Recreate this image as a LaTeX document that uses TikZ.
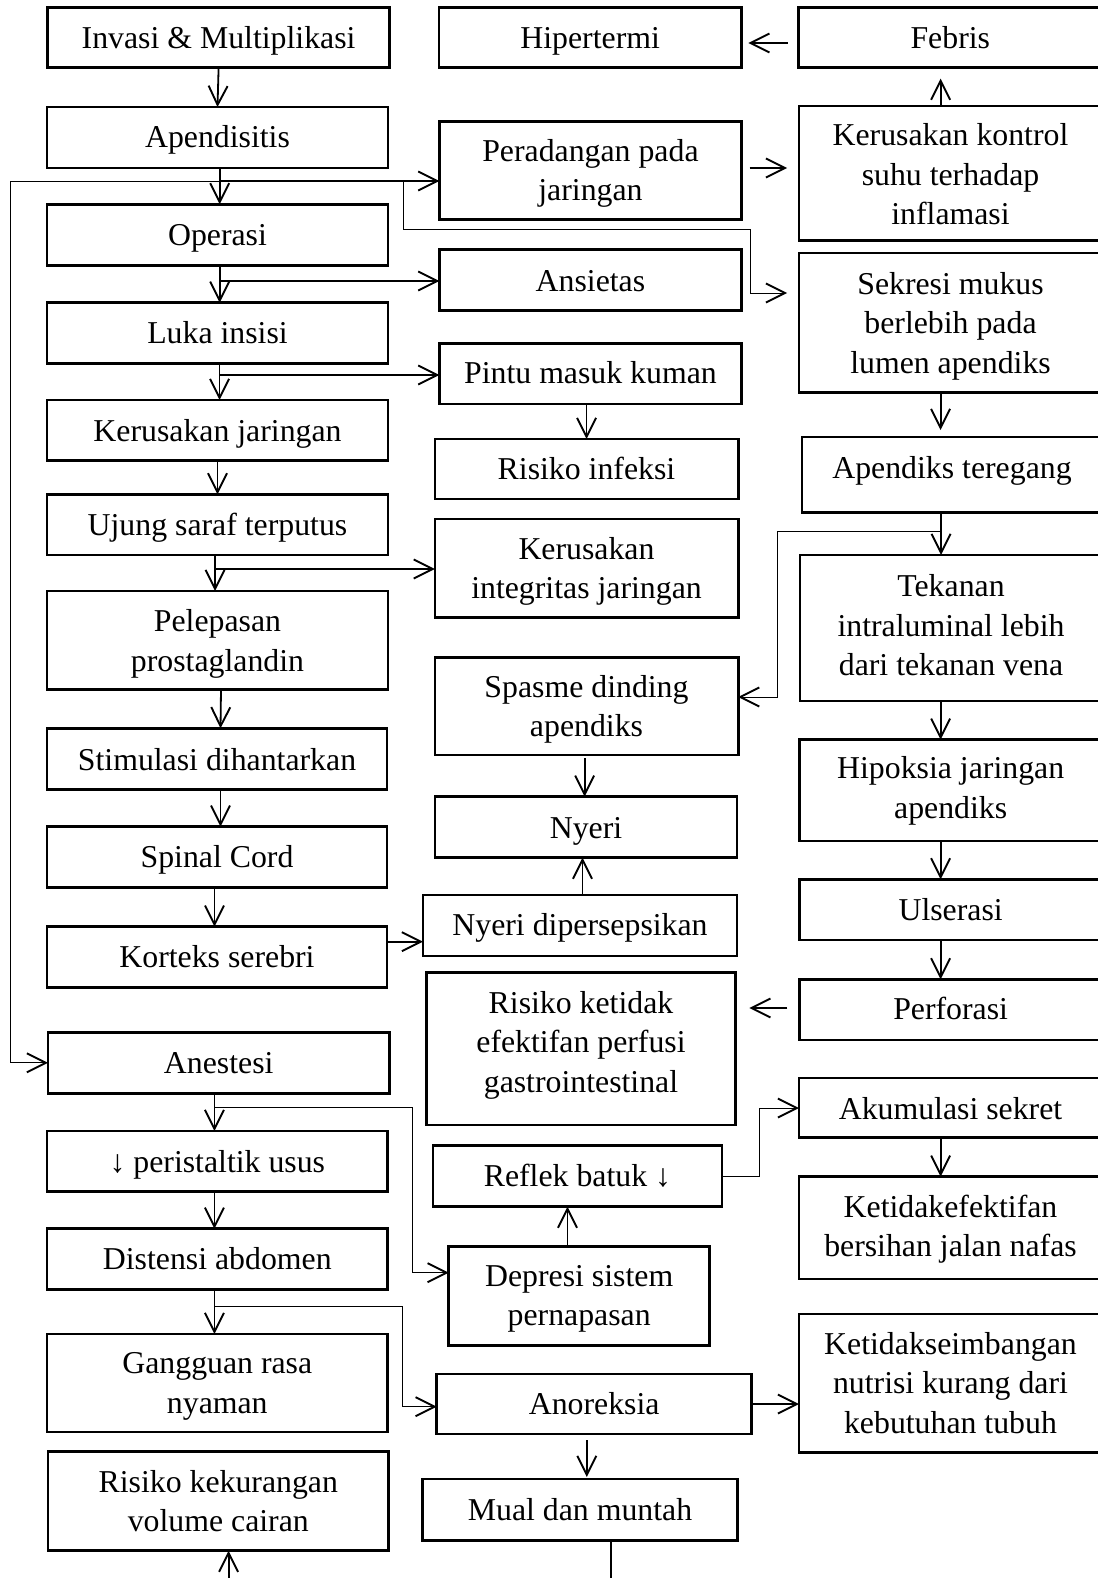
\documentclass[tikz,border=0pt]{standalone}
\usepackage{fontspec}
\setmainfont{Liberation Serif}
\usetikzlibrary{arrows.meta,calc}
\tikzset{
  bx/.style={draw, line width=2.6pt, inner sep=0pt, outer sep=0pt},
  tx/.style={align=center, inner sep=0pt, font=\fontsize{31.8pt}{39.5pt}\selectfont,
    execute at begin node=\strut, execute at end node=\strut},
  arr/.style={line width=1.8pt, -{Straight Barb[length=19pt,width=19pt,line width=1.9pt]}},
  ln/.style={line width=1.8pt},
  thinarr/.style={line width=0.9pt, -{Straight Barb[length=19pt,width=19pt,line width=1.9pt]}},
}
\newcommand{\bxn}[7]{%
  \pgfmathsetmacro{\bw}{#4-#2}%
  \pgfmathsetmacro{\bh}{#5-#3}%
  \pgfmathsetmacro{\bcx}{(#2+#4)/2}%
  \pgfmathsetmacro{\bcy}{(#3+#5)/2}%
  \node[bx, minimum width=\bw pt, minimum height=\bh pt] (#1) at (\bcx,\bcy) {};
  \node[tx] (t#1) at (\bcx,#6) {#7};
}
\begin{document}
\begin{tikzpicture}[x=1pt,y=-1pt]
\fill[white] (0,0) rectangle (1097,1578);
\useasboundingbox (0,0) rectangle (1097,1578);
% left column
\bxn{inv}{47.6}{7.3}{389.6}{67.7}{40.7}{Invasi \& Multiplikasi}
\bxn{apd}{47}{107}{388}{168}{139.4}{Apendisitis}
\bxn{ops}{47}{204.3}{388}{265.7}{238}{Operasi}
\bxn{luk}{47}{302.7}{388}{363.3}{335.6}{Luka insisi}
\bxn{kj}{47}{400}{388}{460.7}{433.2}{Kerusakan jaringan}
\bxn{ujs}{47}{494.3}{388}{555}{527.8}{Ujung saraf terputus}
\bxn{pel}{47}{591}{388}{689.3}{646.6}{Pelepasan\\prostaglandin}
\bxn{stm}{47}{728.3}{387}{789.3}{762.3}{Stimulasi dihantarkan}
\bxn{spc}{47}{826.7}{387}{887.3}{859.9}{Spinal Cord}
\bxn{kor}{47}{926.7}{387}{987.3}{959.6}{Korteks serebri}
\bxn{ane}{48}{1032.3}{389.5}{1093.3}{1065.3}{Anestesi}
\bxn{pst}{47}{1131}{387.6}{1191.7}{1164.9}{↓ peristaltik usus}
\bxn{dis}{47}{1228.7}{387.6}{1289.3}{1261.5}{Distensi abdomen}
\bxn{gan}{47}{1334}{387.6}{1432}{1388.8}{Gangguan rasa\\nyaman}
\bxn{rkv}{48}{1451.7}{388.6}{1550.7}{1507}{Risiko kekurangan\\volume cairan}
% middle column
\bxn{hip}{439}{7.3}{741.3}{67.7}{40.7}{Hipertermi}
\bxn{per}{439.3}{121.7}{741.6}{219.3}{176.1}{Peradangan pada\\jaringan}
\bxn{ans}{439.3}{249.3}{741.6}{310.7}{283.3}{Ansietas}
\bxn{pin}{439.3}{343.3}{741.6}{404}{375.9}{Pintu masuk kuman}
\bxn{rin}{434.8}{439}{738.2}{499}{471.5}{Risiko infeksi}
\bxn{kij}{434.8}{519}{738.2}{617.7}{574.1}{Kerusakan\\integritas jaringan}
\bxn{spa}{434.8}{657.3}{738.2}{755}{712}{Spasme dinding\\apendiks}
\bxn{nye}{435}{796.7}{737}{857.7}{830.8}{Nyeri}
\bxn{nyd}{423}{895}{737}{956}{927.4}{Nyeri dipersepsikan}
\bxn{rkp}{426.7}{972.7}{735.3}{1125}{1047.6}{Risiko ketidak\\efektifan perfusi\\gastrointestinal}
\bxn{ref}{433}{1145.7}{721.8}{1206.7}{1179}{Reflek batuk ↓}
\bxn{dep}{448.7}{1246.7}{709.7}{1345.7}{1301.2}{Depresi sistem\\pernapasan}
\bxn{ano}{436.7}{1374}{751.6}{1434}{1406.4}{Anoreksia}
\bxn{mua}{422.6}{1479}{737.4}{1540.7}{1512.1}{Mual dan muntah}
% right column
\bxn{feb}{798.6}{7.3}{1102}{67.7}{40.7}{Febris}
\bxn{kks}{799}{106}{1102}{240.7}{180.1}{Kerusakan kontrol\\suhu terhadap\\inflamasi}
\bxn{sek}{799}{253}{1102}{392.7}{328.6}{Sekresi mukus\\berlebih pada\\lumen apendiks}
\bxn{apt}{802}{437}{1102}{512.7}{470.5}{Apendiks teregang}
\bxn{tek}{800}{555}{1102}{701}{631}{Tekanan\\intraluminal lebih\\dari tekanan vena}
\bxn{hpx}{799.3}{739.7}{1102}{841}{793.5}{Hipoksia jaringan\\apendiks}
\bxn{uls}{799.3}{879.3}{1102}{940}{912.3}{Ulserasi}
\bxn{pfr}{799.3}{979.3}{1102}{1040}{1011.9}{Perforasi}
\bxn{aku}{799}{1077.8}{1102}{1137.3}{1111.5}{Akumulasi sekret}
\bxn{kjn}{799}{1176.7}{1102}{1279}{1231.8}{Ketidakefektifan\\bersihan jalan nafas}
\bxn{kns}{799}{1314}{1102}{1452.7}{1388.8}{Ketidakseimbangan\\nutrisi kurang dari\\kebutuhan tubuh}
% helper coordinates
\coordinate (j1) at (219.7,181);
\coordinate (lL) at (10.5,181);
\coordinate (r1) at (403,181);
\coordinate (r2) at (750.5,229);
\coordinate (sy) at (0,293);
\coordinate (j2) at (219.7,281);
\coordinate (j3) at (219.5,375);
\coordinate (j4) at (215,569);
\coordinate (ky) at (0,941.7);
\coordinate (nx) at (582.5,0);
\coordinate (sx) at (584.6,0);
\coordinate (j5) at (214.4,1107);
\coordinate (d1) at (412,1272.7);
\coordinate (j6) at (214.4,1306);
\coordinate (a1) at (402,1406.7);
\coordinate (rx) at (567.5,0);
\coordinate (k1) at (759,1108);
\coordinate (mx) at (586.8,0);
\coordinate (mo) at (611,1585);
\coordinate (ri) at (228.6,1585);
\coordinate (hy) at (0,43);
\coordinate (cx) at (940.6,0);
\coordinate (py) at (0,168);
\coordinate (j7) at (941,531.7);
\coordinate (s1) at (777.8,697);
\coordinate (fy) at (0,1008);
% left column connectors
\draw[arr] (inv.south) -- (apd.north);
\draw[arr] (apd.south -| j1) -- (ops.north -| j1);
\draw[thinarr] (j1) -- (lL) |- (ane.west);
\draw[arr] (j1) -- (j1 -| per.west);
\draw[thinarr, shorten >=12pt] (r1) |- (r2) |- (sek.west |- sy);
\draw[arr] (ops.south -| j2) -- (luk.north -| j2);
\draw[arr] (j2) -- (j2 -| ans.west);
\draw[arr] (luk.south -| j3) -- (kj.north -| j3);
\draw[arr] (j3) -- (j3 -| pin.west);
\draw[arr] (pin.south -| rin.north) -- (rin.north);
\draw[arr] (kj.south) -- (ujs.north);
\draw[arr] (ujs.south -| j4) -- (pel.north -| j4);
\draw[arr] (j4) -- (j4 -| kij.west);
\draw[arr] ([xshift=3.5pt]pel.south) -- ([xshift=3.5pt]stm.north);
\draw[arr] ([xshift=3.5pt]stm.south) -- ([xshift=3.5pt]spc.north);
\draw[arr] ([xshift=-2.5pt]spc.south) -- ([xshift=-2.5pt]kor.north);
\draw[arr] (kor.east |- ky) -- (nyd.west |- ky);
\draw[arr] (nyd.north -| nx) -- (nye.south -| nx);
\draw[arr, shorten <=3pt] (spa.south -| sx) -- (nye.north -| sx);
\draw[arr] (ane.south -| j5) -- (pst.north -| j5);
\draw[thinarr] (j5) -| (d1) -- (d1 -| dep.west);
\draw[arr] (pst.south -| j5) -- (dis.north -| j5);
\draw[arr] (dis.south -| j6) -- (gan.north -| j6);
\draw[thinarr] (j6) -| (a1) -- (a1 -| ano.west);
\draw[arr] (dep.north -| rx) -- (ref.south -| rx);
\draw[thinarr] (ref.east) -| (k1) -- (k1 -| aku.west);
\draw[arr] (ano.east) -- (kns.west |- ano.east);
\draw[arr, shorten <=6pt, shorten >=2pt] (ano.south -| mx) -- (mua.north -| mx);
\draw[ln] (mua.south -| mo) -- (mo);
\draw[arr] (ri) -- (ri |- rkv.south);
% right column connectors
\draw[arr, shorten <=11pt, shorten >=7pt] (feb.west |- hy) -- (hip.east |- hy);
\draw[arr, shorten >=11pt] (kks.north -| cx) -- (feb.south -| cx);
\draw[arr, shorten <=8pt, shorten >=12pt] (per.east |- py) -- (kks.west |- py);
\draw[arr, shorten >=7pt] (sek.south -| cx) -- (apt.north -| cx);
\draw[arr] (apt.south -| j7) -- (tek.north -| j7);
\draw[thinarr] (j7) -| (s1) -- (s1 -| spa.east);
\draw[arr] (tek.south -| cx) -- (hpx.north -| cx);
\draw[arr] (hpx.south -| cx) -- (uls.north -| cx);
\draw[arr] (uls.south -| cx) -- (pfr.north -| cx);
\draw[arr, shorten <=12pt, shorten >=14pt] (pfr.west |- fy) -- (rkp.east |- fy);
\draw[arr] (aku.south -| cx) -- (kjn.north -| cx);
\end{tikzpicture}
\end{document}
